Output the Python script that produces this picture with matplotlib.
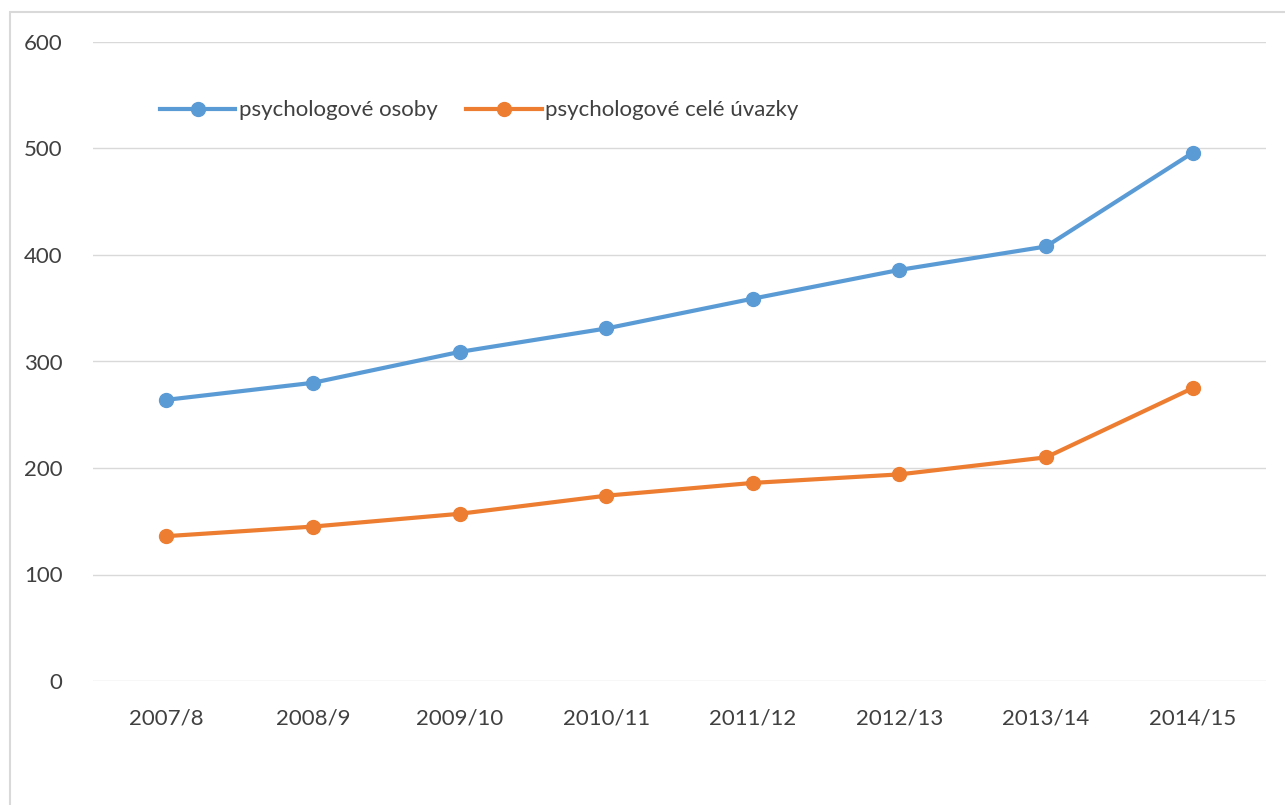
import matplotlib.pyplot as plt
from matplotlib.patches import Rectangle

years = ['2007/8', '2008/9', '2009/10', '2010/11', '2011/12', '2012/13', '2013/14', '2014/15']
osoby = [264, 280, 309, 331, 359, 386, 408, 496]
uvazky = [136, 145, 157, 174, 186, 194, 210, 275]

plt.rcParams['font.family'] = ['Lato', 'DejaVu Sans']

W, H = 1285, 805
fig = plt.figure(figsize=(W / 100, H / 100), dpi=100)
fig.patches.append(Rectangle((10 / W, -0.1), 1.2, 1 - 12 / H + 0.1, transform=fig.transFigure,
                             fill=False, edgecolor='#D9D9D9', lw=1.5))
ax = fig.add_axes([93 / W, (H - 681) / H, 1173 / W, 639 / H])

x = range(len(years))
ax.plot(x, osoby, '-o', color='#5B9BD5', lw=3, ms=10, label='psychologové osoby')
ax.plot(x, uvazky, '-o', color='#ED7D31', lw=3, ms=10, label='psychologové celé úvazky')

ax.set_xlim(-0.5, len(years) - 0.5)
ax.set_ylim(0, 600)
ax.set_yticks(range(0, 601, 100))
ax.set_xticks(list(x))
ax.set_xticklabels(years)
ax.grid(axis='y', color='#D9D9D9', lw=1)
ax.set_axisbelow(True)
for s in ax.spines.values():
    s.set_visible(False)
ax.tick_params(length=0, labelsize=16, colors='#404040')
ax.tick_params(axis='y', pad=22)
ax.tick_params(axis='x', pad=20)

ax.legend(loc='upper left', bbox_to_anchor=(0.04, 0.94), ncol=2, frameon=False,
          fontsize=16, handlelength=3.4, handletextpad=0.15, columnspacing=1.3,
          labelcolor='#404040')

fig.savefig('out.png', dpi=100)
